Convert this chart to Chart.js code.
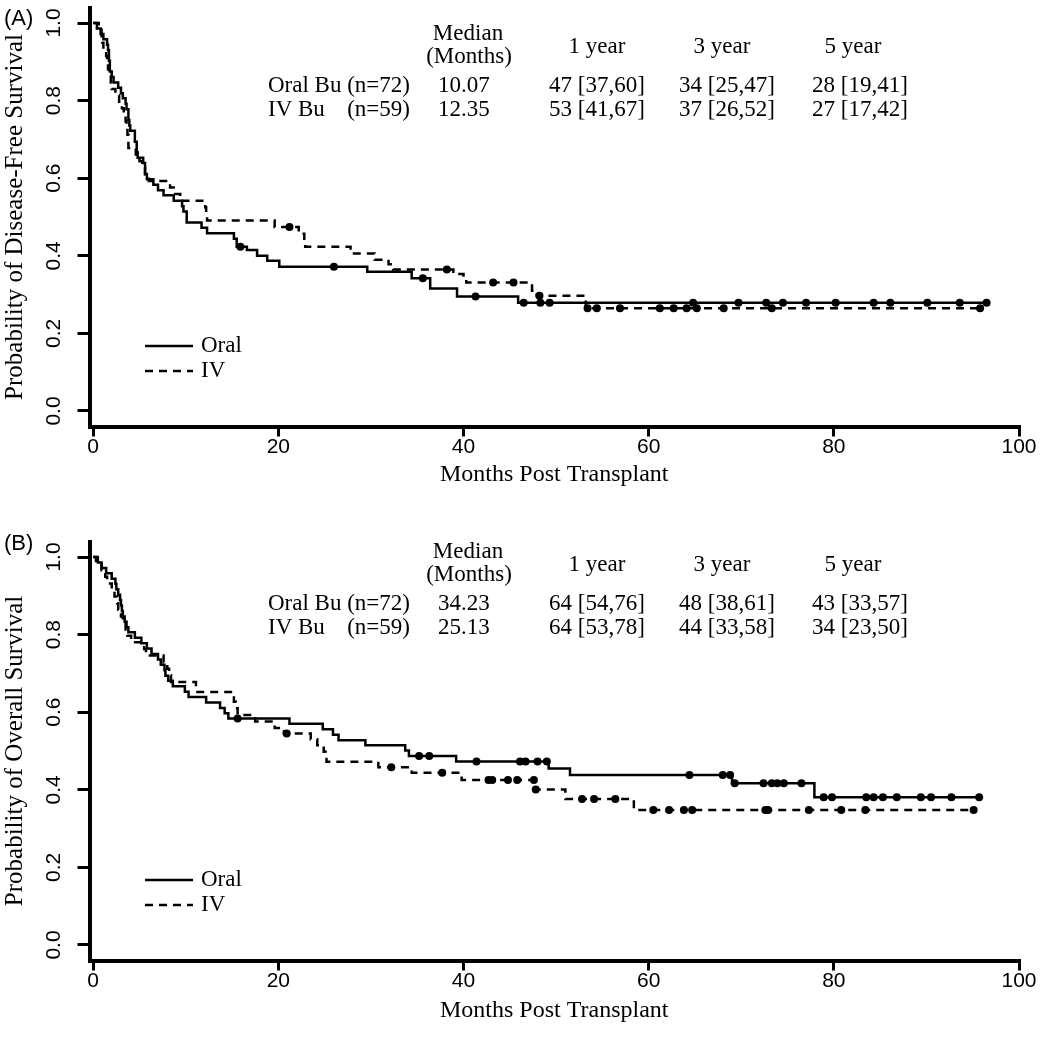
<!DOCTYPE html>
<html>
<head>
<meta charset="utf-8">
<script src="https://cdn.jsdelivr.net/npm/chart.js@4.4.1/dist/chart.umd.min.js"></script>
<style>
  html, body { margin: 0; padding: 0; background: #fff; overflow: hidden; }
  #wrap { position: relative; width: 1048px; height: 1050px; }
  canvas { position: absolute; left: 0; }
  #dfs-chart { top: 0; }
  #os-chart { top: 525px; }
</style>
</head>
<body>
<div id="wrap">
  <canvas id="dfs-chart" width="1048" height="525"></canvas>
  <canvas id="os-chart" width="1048" height="525"></canvas>
</div>
<script>
// axis ticks
const monthTicks = [0, 20, 40, 60, 80, 100];
const probTicks = [0, 0.2, 0.4, 0.6, 0.8, 1.0];

// (A) disease-free survival, step times (months) and survival after each step
const dfsOralTime = [0, 0.4, 0.8, 1.1, 1.5, 1.6, 1.7, 1.8, 2.0, 2.2, 2.7, 3.0, 3.2, 3.5, 3.6, 3.8, 3.9, 4.0, 4.5, 4.7, 4.8, 5.4, 5.6, 5.8, 6.5, 7.0, 7.6, 8.7, 9.6, 9.75, 10.1, 11.7, 12.3, 15.2, 15.5, 16.6, 17.7, 18.8, 20.1, 29.6, 34.4, 36.4, 39.3, 45.9];
const dfsOralSurv = [1.0, 0.986, 0.972, 0.958, 0.944, 0.93, 0.903, 0.875, 0.861, 0.847, 0.833, 0.819, 0.806, 0.792, 0.778, 0.75, 0.736, 0.722, 0.694, 0.667, 0.653, 0.639, 0.611, 0.597, 0.583, 0.569, 0.556, 0.542, 0.528, 0.514, 0.486, 0.472, 0.458, 0.444, 0.423, 0.415, 0.40, 0.387, 0.372, 0.359, 0.342, 0.316, 0.295, 0.279];
const dfsOralCensor = [15.9, 26.0, 35.6, 41.3, 46.5, 48.3, 49.3, 64.8, 69.7, 72.7, 74.5, 77.0, 80.2, 84.3, 86.1, 90.1, 93.6, 96.5];

const dfsIvTime = [0, 0.6, 0.9, 1.0, 1.1, 1.4, 1.5, 1.6, 1.7, 1.9, 2.0, 2.4, 2.8, 3.1, 3.3, 3.5, 3.6, 3.7, 3.8, 4.6, 5.0, 5.3, 5.6, 6.0, 8.3, 8.7, 9.4, 12.1, 12.2, 12.3, 19.6, 22.2, 22.8, 22.9, 27.8, 30.4, 31.9, 32.4, 38.9, 40.0, 40.3, 47.4, 47.9, 53.2];
const dfsIvSurv = [1.0, 0.983, 0.966, 0.949, 0.932, 0.915, 0.898, 0.881, 0.864, 0.847, 0.83, 0.814, 0.797, 0.78, 0.763, 0.746, 0.729, 0.712, 0.678, 0.661, 0.644, 0.627, 0.61, 0.593, 0.576, 0.559, 0.542, 0.525, 0.508, 0.491, 0.474, 0.457, 0.44, 0.423, 0.406, 0.39, 0.378, 0.365, 0.353, 0.34, 0.331, 0.31, 0.297, 0.265];
const dfsIvCensor = [21.2, 38.2, 43.2, 45.4, 48.2, 53.4, 54.4, 56.9, 61.2, 62.7, 64.1, 65.2, 68.1, 73.3, 95.8];

// (B) overall survival
const osOralTime = [0, 0.5, 0.9, 1.4, 2.0, 2.4, 2.5, 2.7, 2.9, 3.0, 3.1, 3.2, 3.4, 3.6, 3.8, 4.5, 5.2, 5.8, 6.3, 7.0, 7.3, 7.7, 7.8, 8.1, 8.6, 9.9, 10.3, 12.2, 13.7, 14.2, 14.6, 21.2, 24.8, 25.9, 26.5, 29.4, 33.7, 34.1, 39.2, 49.2, 51.5, 69.0, 77.9];
const osOralSurv = [1.0, 0.986, 0.972, 0.958, 0.944, 0.931, 0.917, 0.903, 0.889, 0.875, 0.861, 0.847, 0.833, 0.819, 0.806, 0.792, 0.778, 0.764, 0.75, 0.736, 0.722, 0.708, 0.694, 0.681, 0.667, 0.653, 0.639, 0.625, 0.611, 0.597, 0.584, 0.570, 0.556, 0.542, 0.528, 0.515, 0.501, 0.487, 0.473, 0.455, 0.438, 0.417, 0.381];
const osOralCensor = [15.6, 35.2, 36.3, 41.4, 46.1, 46.7, 48.0, 49.0, 64.4, 68.0, 68.8, 69.3, 72.4, 73.3, 73.9, 74.6, 76.5, 78.9, 79.8, 83.5, 84.3, 85.3, 86.8, 89.4, 90.5, 92.7, 95.7];

const osIvTime = [0, 0.3, 0.9, 1.3, 1.5, 2.0, 2.3, 2.6, 2.7, 3.0, 3.2, 3.5, 3.7, 4.1, 5.5, 5.7, 7.6, 8.0, 8.2, 8.4, 11.1, 15.2, 15.4, 15.6, 17.5, 19.6, 20.6, 23.5, 24.2, 24.9, 25.1, 25.2, 30.8, 34.4, 39.8, 47.7, 51.0, 58.4];
const osIvSurv = [1.0, 0.983, 0.966, 0.949, 0.932, 0.915, 0.898, 0.881, 0.864, 0.847, 0.83, 0.813, 0.797, 0.78, 0.763, 0.746, 0.729, 0.712, 0.695, 0.678, 0.652, 0.627, 0.61, 0.593, 0.576, 0.559, 0.545, 0.53, 0.515, 0.498, 0.485, 0.472, 0.458, 0.444, 0.425, 0.401, 0.376, 0.348];
const osIvCensor = [20.9, 32.2, 37.7, 42.7, 43.1, 44.8, 45.8, 47.6, 47.8, 52.8, 54.1, 56.4, 60.5, 62.2, 63.8, 64.7, 72.6, 72.9, 77.3, 80.8, 83.4, 95.1];

// summary tables
const yearHeads = ["1 year", "3 year", "5 year"];
const groupNames = ["Oral Bu", "IV Bu"];
const groupSizes = ["(n=72)", "(n=59)"];
const dfsMedians = ["10.07", "12.35"];
const dfsRates = [["47 [37,60]", "34 [25,47]", "28 [19,41]"], ["53 [41,67]", "37 [26,52]", "27 [17,42]"]];
const osMedians = ["34.23", "25.13"];
const osRates = [["64 [54,76]", "48 [38,61]", "43 [33,57]"], ["64 [53,78]", "44 [33,58]", "34 [23,50]"]];

const SERIF = "'Liberation Serif', 'Times New Roman', serif";
const SANS = "'Liberation Sans', Arial, sans-serif";

const survAt = (times, surv, t) => {
  let v = surv[0];
  for (let i = 0; i < times.length; i++) {
    if (times[i] <= t) v = surv[i];
  }
  return v;
};

const curvePoints = (times, surv, censor) => {
  const pts = times.map((t, i) => ({ x: t, y: surv[i] }));
  const last = Math.max(censor[censor.length - 1], times[times.length - 1]);
  pts.push({ x: last, y: surv[surv.length - 1] });
  return pts;
};

const censorPoints = (times, surv, censor) => censor.map(t => ({ x: t, y: survAt(times, surv, t) }));

const decorPlugin = {
  id: "decor",
  afterDraw(chart, args, opts) {
    const ctx = chart.ctx;
    const yScale = chart.scales.y;
    ctx.save();
    ctx.fillStyle = "#000";
    ctx.strokeStyle = "#000";

    // rotated y tick labels (R style)
    ctx.font = "21px " + SANS;
    ctx.textAlign = "center";
    ctx.textBaseline = "middle";
    probTicks.forEach(v => {
      ctx.save();
      ctx.translate(54, yScale.getPixelForValue(v));
      ctx.rotate(-Math.PI / 2);
      ctx.fillText(v.toFixed(1), 0, 0);
      ctx.restore();
    });

    // panel letter
    ctx.font = "22px " + SANS;
    ctx.textAlign = "left";
    ctx.fillText(opts.letter, 4, 19);

    // summary table
    const t = opts.tableShift;
    ctx.font = "23px " + SERIF;
    ctx.textAlign = "center";
    ctx.fillText("Median", 468, 34 + t);
    ctx.fillText("(Months)", 469, 57 + t);
    const headX = [597, 722, 853];
    const rateX = [597, 727, 860];
    yearHeads.forEach((h, i) => ctx.fillText(h, headX[i], 47 + t));
    const rowY = [86 + t, 110 + t];
    const labelW = ctx.measureText(groupNames[0] + " " + groupSizes[0]).width;
    groupNames.forEach((g, r) => {
      ctx.textAlign = "left";
      ctx.fillText(g, 268, rowY[r]);
      ctx.textAlign = "right";
      ctx.fillText(groupSizes[r], 268 + labelW, rowY[r]);
      ctx.textAlign = "left";
      ctx.fillText(opts.medians[r], 438, rowY[r]);
      ctx.textAlign = "center";
      opts.rates[r].forEach((txt, c) => ctx.fillText(txt, rateX[c], rowY[r]));
    });

    // legend
    const s = opts.shift;
    const legY = [346 + s, 371 + s];
    ctx.lineWidth = 2.5;
    chart.data.datasets.slice(0, 2).forEach((ds, i) => {
      ctx.setLineDash(ds.borderDash || []);
      ctx.beginPath();
      ctx.moveTo(145, legY[i]);
      ctx.lineTo(193, legY[i]);
      ctx.stroke();
      ctx.setLineDash([]);
      ctx.textAlign = "left";
      ctx.fillText(ds.label, 201, legY[i]);
    });
    ctx.restore();
  }
};

const survivalChart = (id, p) => {
  const lineStyle = { showLine: true, stepped: "before", borderColor: "#000", borderWidth: 2.5, pointRadius: 0, fill: false };
  const dotStyle = { showLine: false, pointRadius: 4, pointBackgroundColor: "#000", pointBorderWidth: 0 };
  return new Chart(id, {
    type: "scatter",
    data: {
      datasets: [
        { label: "Oral", data: curvePoints(p.oralTime, p.oralSurv, p.oralCensor), ...lineStyle },
        { label: "IV", data: curvePoints(p.ivTime, p.ivSurv, p.ivCensor), ...lineStyle, borderDash: [8, 6] },
        { label: "Oral censored", data: censorPoints(p.oralTime, p.oralSurv, p.oralCensor), ...dotStyle },
        { label: "IV censored", data: censorPoints(p.ivTime, p.ivSurv, p.ivCensor), ...dotStyle },
      ]
    },
    options: {
      responsive: false,
      animation: false,
      events: [],
      layout: { padding: { top: 7.5 + p.shift, right: 29, left: 0, bottom: 0 } },
      plugins: {
        legend: { display: false },
        tooltip: { enabled: false },
        decor: { letter: p.letter, shift: p.shift, tableShift: p.tableShift, medians: p.medians, rates: p.rates },
      },
      scales: {
        x: {
          type: "linear",
          min: -0.4,
          max: 100,
          afterBuildTicks: scale => { scale.ticks = monthTicks.map(v => ({ value: v })); },
          afterFit: scale => { scale.height = 98.5 - p.shift; },
          border: { display: true, color: "#000", width: 4 },
          grid: { drawOnChartArea: false, color: "#000", lineWidth: 3, tickLength: 10 },
          ticks: { color: "#000", maxRotation: 0, padding: -2, font: { family: SANS, size: 21 } },
          title: { display: true, text: "Months Post Transplant", color: "#000", font: { family: SERIF, size: 24 }, padding: { top: 0, bottom: p.xTitlePad } },
        },
        y: {
          type: "linear",
          min: -0.04,
          max: 1.04,
          afterBuildTicks: scale => { scale.ticks = probTicks.map(v => ({ value: v })); },
          afterFit: scale => { scale.width = 89.5; },
          border: { display: true, color: "#000", width: 4 },
          grid: { drawOnChartArea: false, color: "#000", lineWidth: 3, tickLength: 12 },
          ticks: { display: false },
          title: { display: true, text: p.yTitle, color: "#000", font: { family: SERIF, size: 25 }, padding: 0 },
        }
      }
    },
    plugins: [decorPlugin]
  });
};

survivalChart("dfs-chart", {
  letter: "(A)", shift: 0, tableShift: 0, xTitlePad: 36, yTitle: "Probability of Disease-Free Survival",
  oralTime: dfsOralTime, oralSurv: dfsOralSurv, oralCensor: dfsOralCensor,
  ivTime: dfsIvTime, ivSurv: dfsIvSurv, ivCensor: dfsIvCensor,
  medians: dfsMedians, rates: dfsRates,
});

survivalChart("os-chart", {
  letter: "(B)", shift: 9, tableShift: -7, xTitlePad: 25, yTitle: "Probability of Overall Survival",
  oralTime: osOralTime, oralSurv: osOralSurv, oralCensor: osOralCensor,
  ivTime: osIvTime, ivSurv: osIvSurv, ivCensor: osIvCensor,
  medians: osMedians, rates: osRates,
});
</script>
</body>
</html>
